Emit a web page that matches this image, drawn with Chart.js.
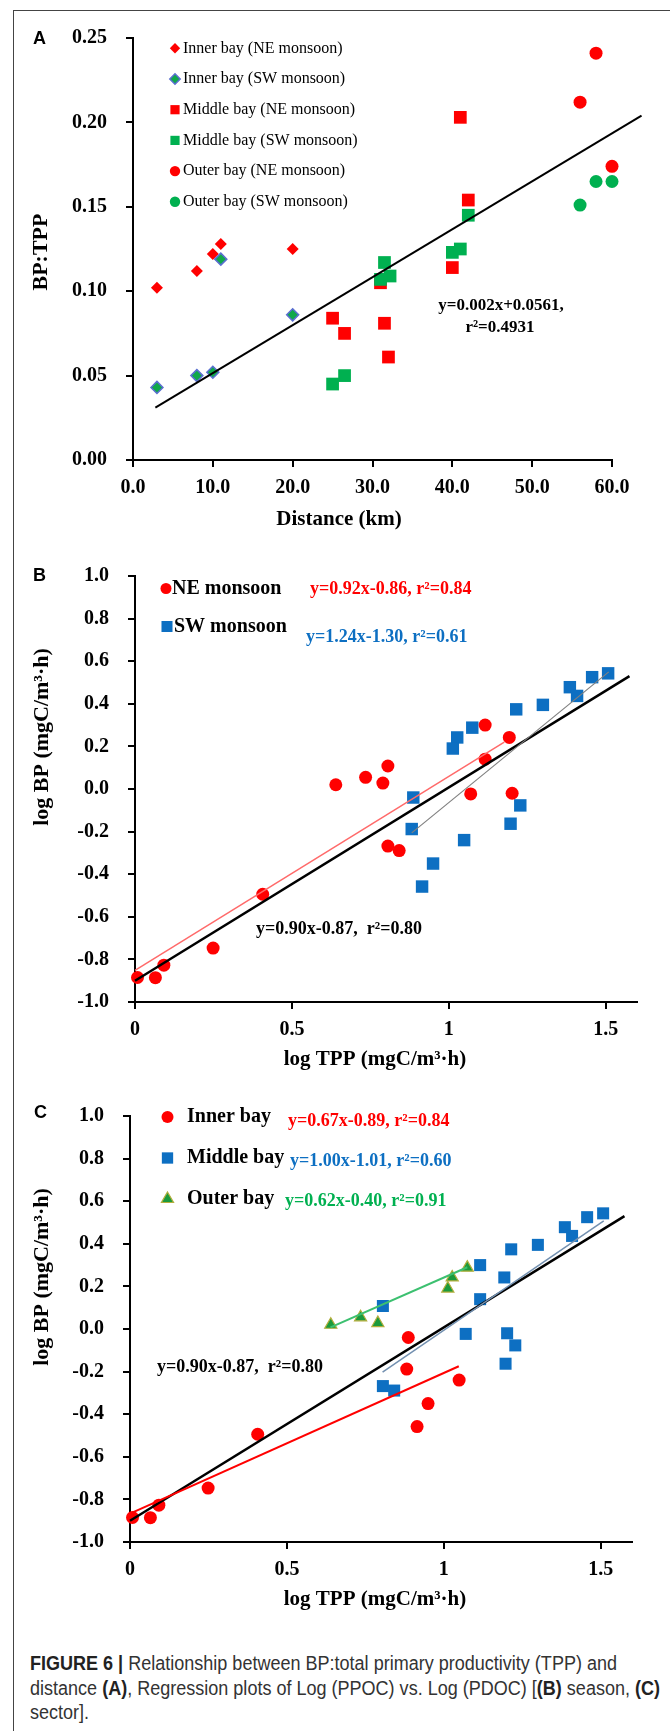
<!DOCTYPE html>
<html>
<head>
<meta charset="utf-8">
<title>Figure 6</title>
<script src="https://cdn.jsdelivr.net/npm/chart.js@4.4.1/dist/chart.umd.min.js"></script>
<style>
    html, body { margin: 0; padding: 0; background: #fff; }
    body { width: 670px; height: 1731px; position: relative; overflow: hidden; }
    .frame-top { position: absolute; left: 13px; top: 10px; width: 657px; border-top: 1.5px solid #444; }
    .frame-left { position: absolute; left: 13px; top: 10px; height: 1721px; border-left: 1.5px solid #444; }
    canvas { position: absolute; left: 0; }
    #caption {
        position: absolute; left: 30px; top: 1651px;
        font-family: "Liberation Sans", Arial, sans-serif; font-size: 19.5px;
        line-height: 24.7px; color: #333; white-space: nowrap; transform-origin: 0 0;
    }
    #caption b { font-weight: 700; color: #222; }
</style>
</head>
<body>
<div class="frame-top"></div>
<div class="frame-left"></div>
<canvas id="chartA" width="670" height="545" style="top:0px"></canvas>
<canvas id="chartB" width="670" height="540" style="top:545px"></canvas>
<canvas id="chartC" width="670" height="560" style="top:1085px"></canvas>
<div id="caption">
    <div><span id="capLine1"><b>FIGURE 6 |</b> Relationship between BP:total primary productivity (TPP) and</span></div>
    <div>distance <b>(A)</b>, Regression plots of Log (PPOC) vs. Log (PDOC) [<b>(B)</b> season, <b>(C)</b></div>
    <div>sector].</div>
</div>

<script>
// ---- Panel A: BP:TPP vs distance (km) ----
const seriesA = ["Inner bay (NE monsoon)", "Inner bay (SW monsoon)", "Middle bay (NE monsoon)",
                 "Middle bay (SW monsoon)", "Outer bay (NE monsoon)", "Outer bay (SW monsoon)"];
const innerNE_km = [3, 8, 10, 11, 20];
const innerNE_ratio = [0.102, 0.112, 0.122, 0.128, 0.125];
const innerSW_km = [3, 8, 10, 11, 20];
const innerSW_ratio = [0.043, 0.050, 0.052, 0.119, 0.086];
const middleNE_km = [25, 26.5, 31, 31.5, 32, 40, 41, 42];
const middleNE_ratio = [0.084, 0.075, 0.105, 0.081, 0.061, 0.114, 0.203, 0.154];
const middleSW_km = [25, 26.5, 31, 31.5, 32.2, 40, 41, 42];
const middleSW_ratio = [0.045, 0.050, 0.107, 0.117, 0.109, 0.123, 0.125, 0.145];
const outerNE_km = [56, 58, 60];
const outerNE_ratio = [0.212, 0.241, 0.174];
const outerSW_km = [56, 58, 60];
const outerSW_ratio = [0.151, 0.165, 0.165];
const fitA_km = [2.8, 63.7];
const fitA_ratio = [0.031, 0.204];

// ---- Panel B: log BP vs log TPP by season ----
const seriesB = ["NE monsoon", "SW monsoon"];
const neTPP = [0.64, 0.735, 0.79, 0.806, 1.116, 1.193, 1.116, 1.07, 1.202, 0.806, 0.842, 0.407, 0.249, 0.092, 0.065, 0.008];
const neBP  = [0.02, 0.055, 0.028, 0.108, 0.30, 0.242, 0.14, -0.023, -0.02, -0.268, -0.289, -0.494, -0.747, -0.827, -0.886, -0.885];
const swTPP = [1.508, 1.457, 1.386, 1.409, 1.30, 1.215, 1.075, 1.027, 1.013, 0.887, 1.228, 0.882, 1.197, 1.049, 0.95, 0.915];
const swBP  = [0.543, 0.525, 0.478, 0.437, 0.395, 0.374, 0.288, 0.242, 0.19, -0.04, -0.077, -0.188, -0.163, -0.24, -0.35, -0.458];
const fitAll_TPP = [0, 1.576];
const fitAll_BP = [-0.9, 0.53];
const fitNE_TPP = [0, 1.177];
const fitNE_BP = [-0.852, 0.22];
const fitSW_TPP = [0.882, 1.51];
const fitSW_BP = [-0.206, 0.55];

// ---- Panel C: log BP vs log TPP by sector ----
const seriesC = ["Inner bay", "Middle bay", "Outer bay"];
const innerTPP = [0.887, 0.882, 1.049, 0.95, 0.915, 0.407, 0.249, 0.092, 0.065, 0.008];
const innerBP  = [-0.04, -0.188, -0.24, -0.35, -0.458, -0.494, -0.747, -0.827, -0.886, -0.885];
const middleTPP = [1.508, 1.457, 1.386, 1.409, 1.30, 1.215, 1.116, 1.193, 1.116, 0.806, 1.07, 1.202, 1.228, 1.197, 0.806, 0.842];
const middleBP  = [0.543, 0.525, 0.478, 0.437, 0.395, 0.374, 0.30, 0.242, 0.14, 0.108, -0.023, -0.02, -0.077, -0.163, -0.268, -0.289];
const outerTPP = [0.64, 0.735, 0.79, 1.013, 1.027, 1.075];
const outerBP  = [0.02, 0.055, 0.028, 0.19, 0.242, 0.288];
const fitInner_TPP = [0, 1.048];
const fitInner_BP = [-0.867, -0.175];
const fitMiddle_TPP = [0.805, 1.51];
const fitMiddle_BP = [-0.203, 0.508];
const fitOuter_TPP = [0.639, 1.075];
const fitOuter_BP = [0.008, 0.29];

const equationsB = ["y=0.92x-0.86, r\u00b2=0.84", "y=1.24x-1.30, r\u00b2=0.61", "y=0.90x-0.87,  r\u00b2=0.80"];
const equationsC = ["y=0.67x-0.89, r\u00b2=0.84", "y=1.00x-1.01, r\u00b2=0.60", "y=0.62x-0.40, r\u00b2=0.91", "y=0.90x-0.87,  r\u00b2=0.80"];
const equationA = ["y=0.002x+0.0561,", "r\u00b2=0.4931"];

const RED = "#ff0000";
const GREEN = "#00b050";
const BLUE = "#0d6fc2";
const SERIF = "\"Liberation Serif\", \"Times New Roman\", serif";
const SANS = "\"Liberation Sans\", Arial, sans-serif";

function pts(xs, ys) {
    return xs.map((x, i) => ({ x: x, y: ys[i] }));
}

function fmtTick(digits) {
    return function (v) {
        if (Math.abs(v) < 1e-9) v = 0;
        return digits < 0 ? String(Math.round(v * 10) / 10) : v.toFixed(digits);
    };
}

// draws panel letters, axis titles, equations and the in-plot legends
const annotate = {
    id: "annotate",
    afterDatasetsDraw(chart, args, opts) {
        const ctx = chart.ctx;
        const top = opts.top;
        (opts.texts || []).forEach(t => {
            ctx.save();
            ctx.font = t.font;
            ctx.fillStyle = t.color || "#000";
            ctx.textAlign = t.align || "left";
            ctx.textBaseline = "middle";
            ctx.translate(t.x, t.y - top);
            if (t.rotate) ctx.rotate(t.rotate);
            ctx.fillText(t.text, 0, 0);
            ctx.restore();
        });
        (opts.legend || []).forEach(item => {
            const ds = chart.data.datasets[item.ds];
            ctx.save();
            ctx.fillStyle = ds.backgroundColor;
            ctx.strokeStyle = ds.borderColor;
            ctx.lineWidth = ds.borderWidth || 0;
            Chart.helpers.drawPoint(ctx, {
                pointStyle: ds.pointStyle, rotation: 0, radius: item.r, borderWidth: ds.borderWidth || 0
            }, item.mx, item.y - top);
            ctx.font = item.font;
            ctx.fillStyle = "#000";
            ctx.textAlign = "left";
            ctx.textBaseline = "middle";
            ctx.fillText(ds.label, item.tx, item.y - top);
            ctx.restore();
        });
    }
};

function axis(min, max, step, digits, isX, includeBounds) {
    return {
        type: "linear",
        position: isX ? "bottom" : "left",
        min: min,
        max: max,
        ticks: {
            stepSize: step,
            includeBounds: includeBounds !== false,
            color: "#000",
            padding: isX ? 9 : 19,
            font: { family: SERIF, size: 20, weight: "bold" },
            callback: fmtTick(digits)
        },
        grid: { drawOnChartArea: false, drawTicks: true, tickLength: 7, color: "#000", lineWidth: 2 },
        border: { display: true, color: "#000", width: 2 }
    };
}

function points(label, xs, ys, style, fill, radius, order, border, borderWidth) {
    return {
        label: label,
        data: pts(xs, ys),
        pointStyle: style,
        backgroundColor: fill,
        borderColor: border || fill,
        borderWidth: borderWidth || 0,
        pointRadius: radius,
        showLine: false,
        clip: false,
        order: order
    };
}

function fitLine(xs, ys, color, width) {
    return {
        label: "fit",
        data: pts(xs, ys),
        showLine: true,
        borderColor: color,
        borderWidth: width,
        pointRadius: 0,
        fill: false,
        clip: false,
        order: 0
    };
}

function makePanel(id, canvasTop, canvasH, area, xAxis, yAxis, datasets, texts, legend) {
    const ctx = document.getElementById(id).getContext("2d");
    // pin the plot area to where it sits in the printed figure
    xAxis.afterFit = (s) => { s.height = canvasTop + canvasH - area.bottom; };
    yAxis.afterFit = (s) => { s.width = area.left; };
    return new Chart(ctx, {
        type: "scatter",
        data: { datasets: datasets },
        options: {
            responsive: false,
            animation: false,
            events: [],
            layout: { padding: { left: 0, bottom: 0, top: area.top - canvasTop, right: 670 - area.right } },
            scales: { x: xAxis, y: yAxis },
            plugins: {
                legend: { display: false },
                tooltip: { enabled: false },
                annotate: { top: canvasTop, texts: texts, legend: legend }
            }
        },
        plugins: [annotate]
    });
}

document.addEventListener("DOMContentLoaded", function () {
    Chart.defaults.color = "#000";
    const rot = -Math.PI / 2;

    // Panel A
    makePanel("chartA", 0, 545, { left: 133, right: 612, top: 38, bottom: 460 },
        axis(0, 60, 10, 1, true),
        axis(0, 0.25, 0.05, 2, false),
        [
            points(seriesA[0], innerNE_km, innerNE_ratio, "rectRot", RED, 6, 6),
            points(seriesA[1], innerSW_km, innerSW_ratio, "rectRot", "#10a84a", 6, 3, "#5a6fd0", 1.5),
            points(seriesA[2], middleNE_km, middleNE_ratio, "rect", RED, 9, 5),
            points(seriesA[3], middleSW_km, middleSW_ratio, "rect", GREEN, 9, 2),
            points(seriesA[4], outerNE_km, outerNE_ratio, "circle", RED, 6.5, 4),
            points(seriesA[5], outerSW_km, outerSW_ratio, "circle", GREEN, 6.5, 1),
            fitLine(fitA_km, fitA_ratio, "#000", 2)
        ],
        [
            { text: "A", x: 33, y: 39, font: "bold 18px " + SANS },
            { text: "BP:TPP", x: 41, y: 252, rotate: rot, align: "center", font: "bold 22px " + SERIF },
            { text: "Distance (km)", x: 339, y: 520, align: "center", font: "bold 21px " + SERIF },
            { text: equationA[0], x: 501, y: 306, align: "center", font: "bold 17px " + SERIF },
            { text: equationA[1], x: 500, y: 328, align: "center", font: "bold 17px " + SERIF }
        ],
        [0, 1, 2, 3, 4, 5].map((i, k) => ({
            ds: i, mx: 175, tx: 183, y: 48.3 + k * 30.7,
            r: i === 2 || i === 3 ? 6.5 : 5.2, font: "16px " + SERIF
        }))
    );

    // Panel B
    makePanel("chartB", 545, 540, { left: 135, right: 637, top: 575, bottom: 1002 },
        axis(0, 1.6, 0.5, -1, true, false),
        axis(-1, 1, 0.2, 1, false),
        [
            points(seriesB[0], neTPP, neBP, "circle", RED, 6.5, 2),
            points(seriesB[1], swTPP, swBP, "rect", BLUE, 8.8, 3),
            fitLine(fitSW_TPP, fitSW_BP, "#808080", 1.2),
            fitLine(fitNE_TPP, fitNE_BP, "#ff6a6a", 1.5),
            fitLine(fitAll_TPP, fitAll_BP, "#000", 2.5)
        ],
        [
            { text: "B", x: 33, y: 576, font: "bold 18px " + SANS },
            { text: "log BP (mgC/m\u00b3\u00b7h)", x: 42, y: 737, rotate: rot, align: "center", font: "bold 22px " + SERIF },
            { text: "log TPP (mgC/m\u00b3\u00b7h)", x: 375, y: 1060, align: "center", font: "bold 21px " + SERIF },
            { text: equationsB[0], x: 310, y: 589, color: RED, font: "bold 18px " + SERIF },
            { text: equationsB[1], x: 306, y: 637, color: BLUE, font: "bold 18px " + SERIF },
            { text: equationsB[2], x: 256, y: 929, font: "bold 18px " + SERIF }
        ],
        [
            { ds: 0, mx: 166, tx: 172, y: 588.5, r: 5.5, font: "bold 20px " + SERIF },
            { ds: 1, mx: 167, tx: 174, y: 626.5, r: 7.8, font: "bold 20px " + SERIF }
        ]
    );

    // Panel C
    makePanel("chartC", 1085, 560, { left: 130, right: 632, top: 1115, bottom: 1542 },
        axis(0, 1.6, 0.5, -1, true, false),
        axis(-1, 1, 0.2, 1, false),
        [
            points(seriesC[0], innerTPP, innerBP, "circle", RED, 6.5, 3),
            points(seriesC[1], middleTPP, middleBP, "rect", BLUE, 8.5, 4),
            points(seriesC[2], outerTPP, outerBP, "triangle", "#1b9a3c", 7, 2, "#b3ae3c", 1.2),
            fitLine(fitMiddle_TPP, fitMiddle_BP, "#7390b0", 1.5),
            fitLine(fitOuter_TPP, fitOuter_BP, "#3cc070", 2),
            fitLine(fitInner_TPP, fitInner_BP, RED, 2),
            fitLine(fitAll_TPP, fitAll_BP, "#000", 2.5)
        ],
        [
            { text: "C", x: 34, y: 1113, font: "bold 18px " + SANS },
            { text: "log BP (mgC/m\u00b3\u00b7h)", x: 42, y: 1277, rotate: rot, align: "center", font: "bold 22px " + SERIF },
            { text: "log TPP (mgC/m\u00b3\u00b7h)", x: 375, y: 1600, align: "center", font: "bold 21px " + SERIF },
            { text: equationsC[0], x: 288, y: 1121, color: RED, font: "bold 18px " + SERIF },
            { text: equationsC[1], x: 290, y: 1161, color: BLUE, font: "bold 18px " + SERIF },
            { text: equationsC[2], x: 285, y: 1201, color: GREEN, font: "bold 18px " + SERIF },
            { text: equationsC[3], x: 157, y: 1367, font: "bold 18px " + SERIF }
        ],
        [
            { ds: 0, mx: 167.5, tx: 187, y: 1117, r: 6, font: "bold 20px " + SERIF },
            { ds: 1, mx: 167.5, tx: 187, y: 1158, r: 8, font: "bold 20px " + SERIF },
            { ds: 2, mx: 167.5, tx: 187, y: 1199, r: 7, font: "bold 20px " + SERIF }
        ]
    );

    // squeeze the caption so its first line has the printed width
    const w = document.getElementById("capLine1").getBoundingClientRect().width;
    if (w > 0) {
        document.getElementById("caption").style.transform = "scaleX(" + (587 / w).toFixed(4) + ")";
    }
});
</script>
</body>
</html>
